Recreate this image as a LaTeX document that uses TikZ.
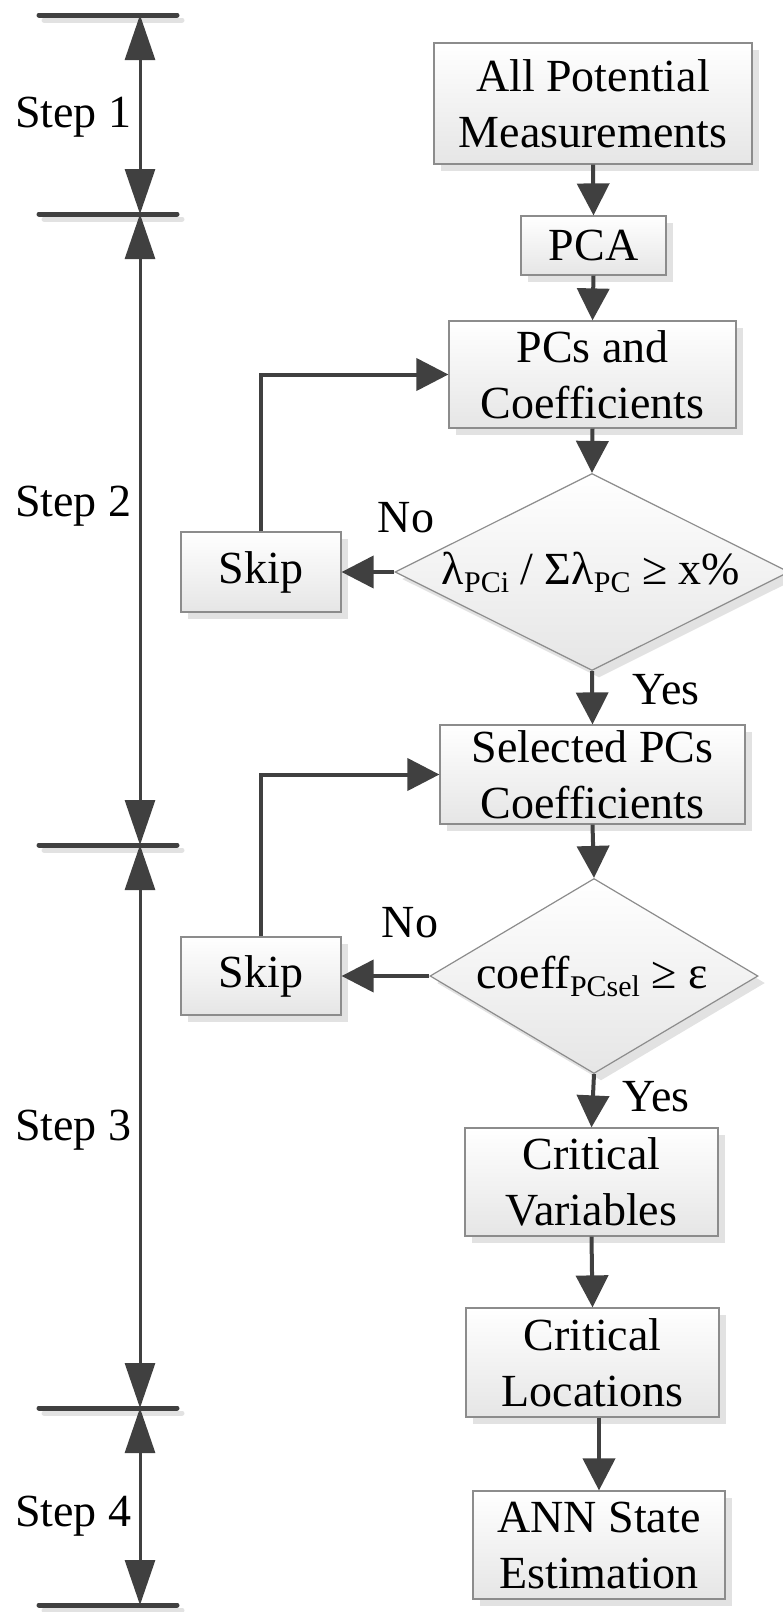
\documentclass[tikz,border=0pt]{standalone}
\usepackage{fontspec}
\setmainfont{Liberation Serif}
\usetikzlibrary{arrows.meta,shapes.geometric,shadows}
\definecolor{dk}{HTML}{404040}
\definecolor{bd}{HTML}{8C8C8C}
\definecolor{sh}{HTML}{E2E2E2}
\newcommand\bigtxt{\fontsize{46}{56}\selectfont}
\newcommand\lsub[1]{\raisebox{-8pt}{\fontsize{30}{30}\selectfont #1}}
\tikzset{
  box/.style={draw=bd, line width=1.2pt, top color=white, bottom color=black!10,
    drop shadow={shadow xshift=7pt, shadow yshift=-7pt, fill=sh, opacity=1},
    inner sep=0pt, align=center, font=\bigtxt},
  dia/.style={diamond, draw=bd, line width=1.2pt, top color=white, bottom color=black!10,
    drop shadow={shadow xshift=7pt, shadow yshift=-7pt, fill=sh, opacity=1},
    inner sep=0pt},
  txt/.style={font=\bigtxt, inner sep=0pt},
  arr/.style={draw=dk, line width=4pt, -{Triangle[width=32pt,length=32pt]}},
  sarr/.style={draw=dk, line width=3pt, {Triangle[width=30pt,length=45pt]}-{Triangle[width=30pt,length=45pt]}},
  bar/.style={draw=dk, line width=5pt, line cap=round},
  barsh/.style={draw=sh, line width=5pt, line cap=round},
}
\begin{document}
\begin{tikzpicture}[x=1pt,y=-1pt]
\useasboundingbox (0,0) rectangle (783,1612);
% flowchart boxes
\node[box, minimum width=318pt, minimum height=121pt] (apm) at (593,103.5) {All Potential\\Measurements};
\node[box, minimum width=145pt, minimum height=59pt] (pca) at (593.5,245.5) {PCA};
\node[box, minimum width=287pt, minimum height=107pt] (pcs) at (592.5,374.5) {PCs and\\Coefficients};
\node[dia, minimum width=394pt, minimum height=197pt] (d1) at (592,572) {};
\node[txt] (d1t) at (591,572) {λ\lsub{PCi} / Σλ\lsub{PC} ≥ x\%};
\node[box, minimum width=160pt, minimum height=80pt] (skip1) at (261,572) {Skip};
\node[box, minimum width=305pt, minimum height=99pt] (sel) at (592.5,774.5) {Selected PCs\\Coefficients};
\node[dia, minimum width=328pt, minimum height=195pt] (d2) at (594,976) {};
\node[txt] (d2t) at (592,976) {coeff\lsub{PCsel} ≥ ε};
\node[box, minimum width=160pt, minimum height=78pt] (skip2) at (261,976) {Skip};
\node[box, minimum width=253pt, minimum height=108pt] (cv) at (591.5,1182) {Critical\\Variables};
\node[box, minimum width=253pt, minimum height=109pt] (cl) at (592.5,1362.5) {Critical\\Locations};
\node[box, minimum width=252pt, minimum height=108pt] (ann) at (599,1545) {ANN State\\Estimation};
% labels
\node[txt] (no1) at (406,518) {No};
\node[txt] (yes1) at (666,690) {Yes};
\node[txt] (no2) at (410,923) {No};
\node[txt] (yes2) at (656,1097) {Yes};
% connectors
\draw[arr] (apm.south) -- (pca.north);
\draw[arr] (pca.south) -- (pcs.north);
\draw[arr] (pcs.south) -- (d1.north);
\draw[arr] (d1.west) -- (skip1.east);
\draw[arr] (skip1.north) |- (pcs.west);
\draw[arr] (d1.south) -- (sel.north);
\draw[arr] (sel.south) -- (d2.north);
\draw[arr] (d2.west) -- (skip2.east);
\draw[arr] (skip2.north) |- (sel.west);
\draw[arr] (d2.south) -- (cv.north);
\draw[arr] (cv.south) -- (cl.north);
\draw[arr] (ann.north |- cl.south) -- (ann.north);
% step scale
\coordinate (b0) at (140,15);
\coordinate (b1) at (140,214);
\coordinate (b2) at (140,845);
\coordinate (b3) at (140,1408);
\coordinate (b4) at (140,1605);
\foreach \y in {15,214,845,1408,1605}{
  \draw[barsh] (44,\y+5) -- (182,\y+5);
}
\foreach \y in {15,214,845,1408,1605}{
  \draw[bar] (39,\y) -- (177,\y);
}
\draw[sarr] (b0) -- (b1);
\draw[sarr] (b1) -- (b2);
\draw[sarr] (b2) -- (b3);
\draw[sarr] (b3) -- (b4);
\node[txt, anchor=west] (s1) at (15,117) {Step 1};
\node[txt, anchor=west] (s2) at (15,506) {Step 2};
\node[txt, anchor=west] (s3) at (15,1130) {Step 3};
\node[txt, anchor=west] (s4) at (15,1516) {Step 4};
\end{tikzpicture}
\end{document}
